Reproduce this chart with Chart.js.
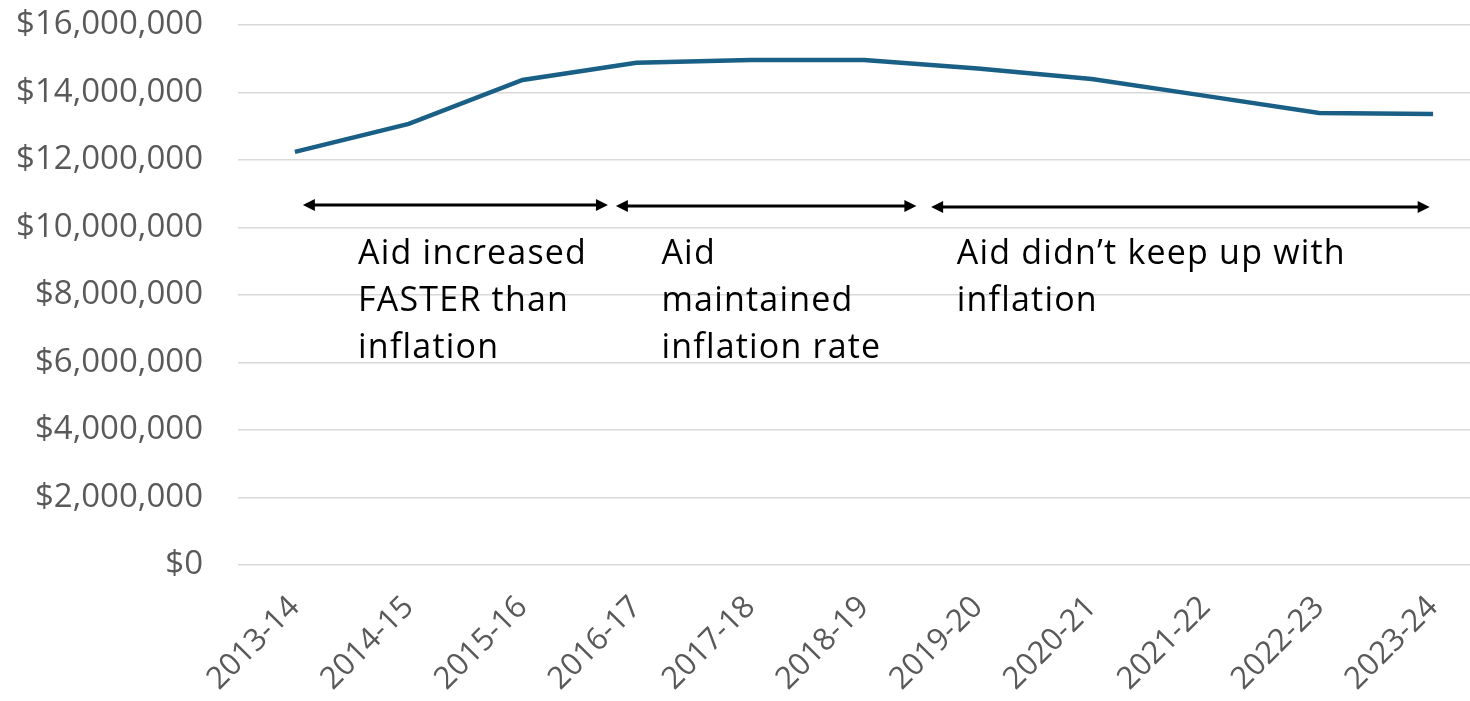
<!DOCTYPE html>
<html>
<head>
<meta charset="utf-8">
<script src="https://cdn.jsdelivr.net/npm/chart.js@4/dist/chart.umd.min.js"></script>
<style>
  html, body { margin: 0; padding: 0; background: #fff; overflow: hidden; }
  #wrap { width: 1490px; height: 701px; position: relative; }
</style>
</head>
<body>
<div id="wrap"><canvas id="aidChart"></canvas></div>
<script>
// school years on the x axis
const years = ["2013-14", "2014-15", "2015-16", "2016-17", "2017-18", "2018-19",
  "2019-20", "2020-21", "2021-22", "2022-23", "2023-24"];

// aid in dollars
const aidValues = [12240000, 13070000, 14370000, 14880000, 14960000, 14960000,
  14710000, 14400000, 13900000, 13390000, 13360000];

const yTicks = [0, 2000000, 4000000, 6000000, 8000000, 10000000, 12000000, 14000000, 16000000];

// the three periods written under the arrows
const periodNotes = [
  ["Aid increased", "FASTER than", "inflation"],
  ["Aid", "maintained", "inflation rate"],
  ["Aid didn\u2019t keep up with", "inflation"],
];

const fmtDollar = (v) => "$" + v.toLocaleString("en-US");

// arrows + text notes drawn after the chart
const notesPlugin = {
  id: "periodNotes",
  afterDraw(chart) {
    const { ctx, scales } = chart;
    const x = scales.x, y = scales.y;

    // arrow spans in category index units, with value height
    const arrows = [
      { from: 0.07, to: 2.75, at: 10670000 },
      { from: 2.82, to: 5.46, at: 10640000 },
      { from: 5.59, to: 9.97, at: 10610000 },
    ];
    ctx.save();
    ctx.strokeStyle = "#000";
    ctx.fillStyle = "#000";
    ctx.lineWidth = 3;
    arrows.forEach((a) => {
      const x1 = x.getPixelForValue(a.from);
      const x2 = x.getPixelForValue(a.to);
      const yy = y.getPixelForValue(a.at);
      const head = 12, half = 6;
      ctx.beginPath();
      ctx.moveTo(x1 + head - 2, yy);
      ctx.lineTo(x2 - head + 2, yy);
      ctx.stroke();
      ctx.beginPath();
      ctx.moveTo(x1, yy);
      ctx.lineTo(x1 + head, yy - half);
      ctx.lineTo(x1 + head, yy + half);
      ctx.closePath();
      ctx.fill();
      ctx.beginPath();
      ctx.moveTo(x2, yy);
      ctx.lineTo(x2 - head, yy - half);
      ctx.lineTo(x2 - head, yy + half);
      ctx.closePath();
      ctx.fill();
    });

    // text blocks
    const starts = [0.555, 3.22, 5.815];
    const firstBaseline = y.getPixelForValue(8920000);
    ctx.font = "34px 'Open Sans', sans-serif";
    ctx.letterSpacing = "1.2px";
    ctx.textAlign = "left";
    ctx.textBaseline = "alphabetic";
    periodNotes.forEach((lines, i) => {
      const tx = x.getPixelForValue(starts[i]);
      lines.forEach((line, j) => {
        ctx.fillText(line, tx, firstBaseline + j * 47);
      });
    });
    ctx.restore();
  },
};

new Chart(document.getElementById("aidChart"), {
  type: "line",
  data: {
    labels: years,
    datasets: [
      {
        label: "Aid",
        data: aidValues,
        borderColor: "#1A6086",
        borderWidth: 4.5,
        pointRadius: 0,
        tension: 0,
        fill: false,
      },
    ],
  },
  options: {
    responsive: true,
    maintainAspectRatio: false,
    animation: false,
    layout: { padding: { top: 25, left: 0, right: 0, bottom: 0 } },
    plugins: {
      legend: { display: false },
      tooltip: { enabled: false },
    },
    scales: {
      x: {
        offset: true,
        grid: { display: false },
        border: { display: false },
        ticks: {
          color: "#595959",
          font: { family: "'Open Sans', sans-serif", size: 31 },
          minRotation: 45,
          maxRotation: 45,
          padding: 16,
        },
        afterFit: (scale) => { scale.height = 136; },
      },
      y: {
        min: 0,
        max: 16000000,
        afterBuildTicks: (scale) => {
          scale.ticks = yTicks.map((v) => ({ value: v }));
        },
        grid: { color: "#d9d9d9", lineWidth: 1.5, drawTicks: false },
        border: { display: false },
        ticks: {
          color: "#595959",
          font: { family: "'Open Sans', sans-serif", size: 33 },
          padding: 35,
          callback: (v) => fmtDollar(v),
        },
        afterFit: (scale) => {
          scale.width = 238;
          scale.paddingTop = 0;
          scale.paddingBottom = 0;
        },
      },
    },
  },
  plugins: [notesPlugin],
});
</script>
</body>
</html>
